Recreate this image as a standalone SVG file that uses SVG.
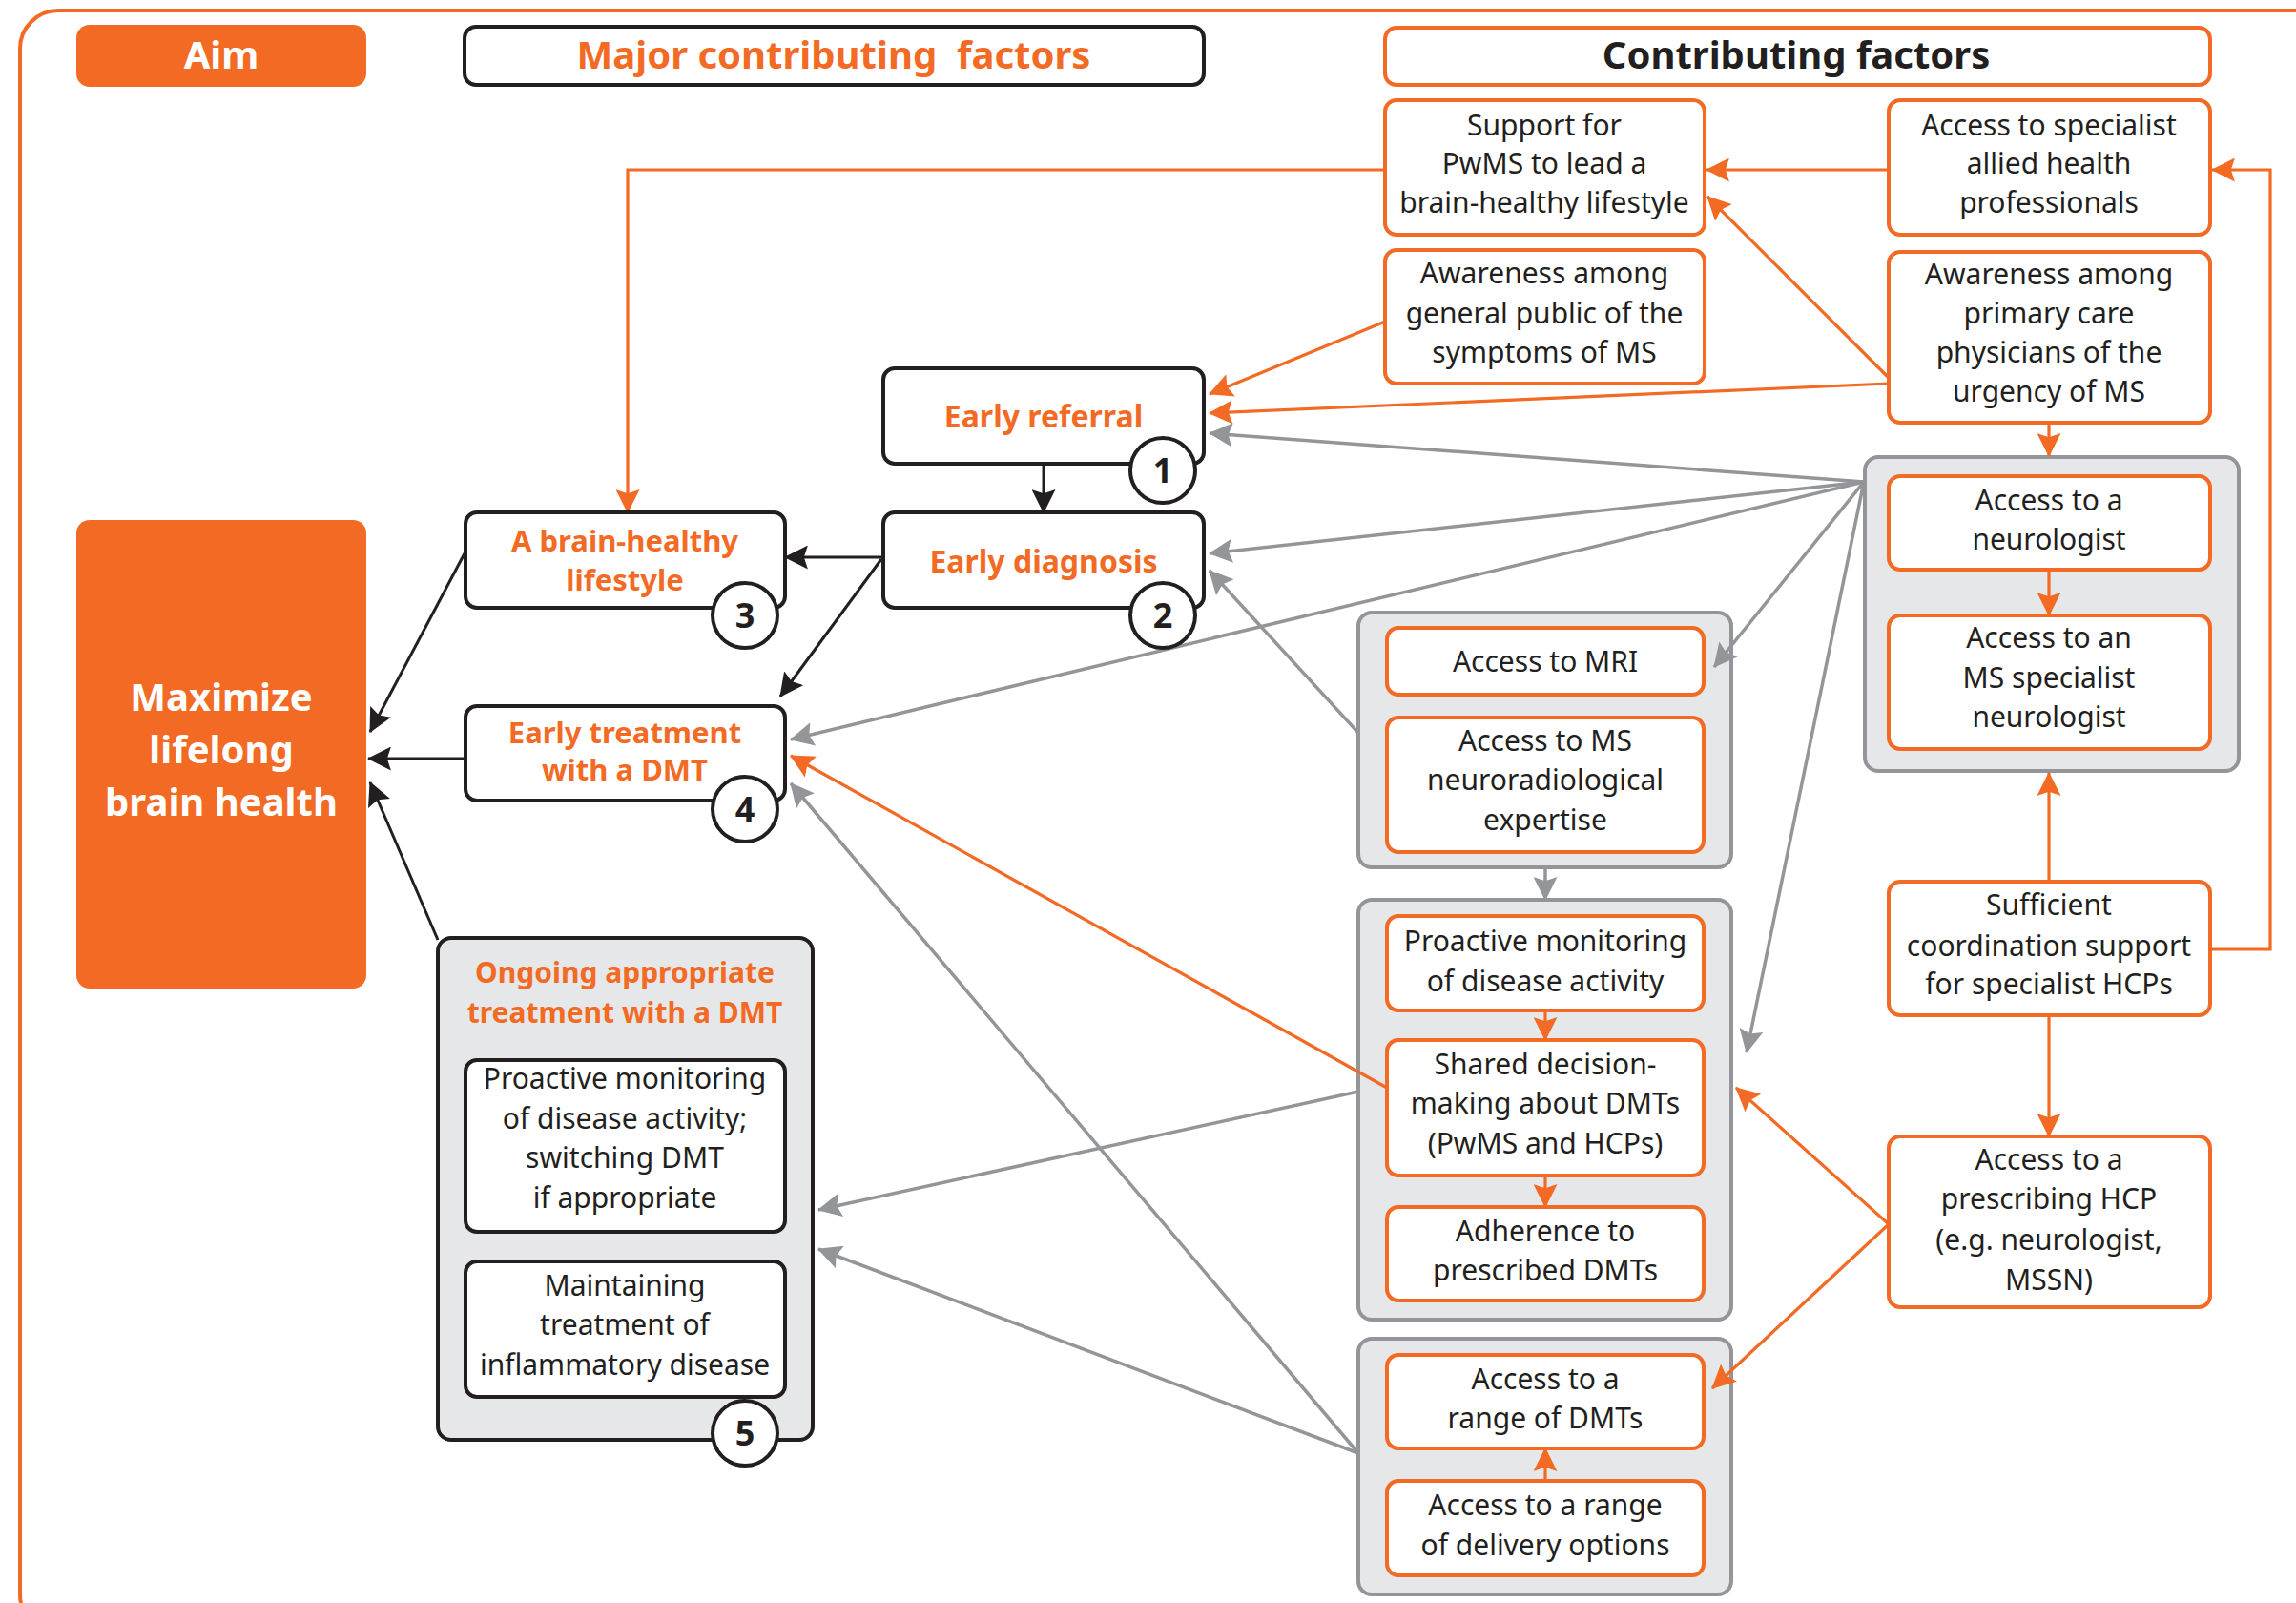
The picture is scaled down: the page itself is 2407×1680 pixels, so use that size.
<svg xmlns="http://www.w3.org/2000/svg" width="2407" height="1680" viewBox="0 0 2407 1680">
<defs>
<style>
.t{font-family:"Noto Sans","Open Sans","Liberation Sans",sans-serif;font-size:30px;fill:#231F20;text-anchor:middle}
.b{font-family:"Noto Sans","Open Sans","Liberation Sans",sans-serif;font-weight:bold;text-anchor:middle}
.ob{fill:#F26A24}
.ow{fill:#FFFFFF}
.ok{fill:#231F20}
.on{fill:#FFFFFF;stroke:#F26A24;stroke-width:4}
.kn{fill:#FFFFFF;stroke:#231F20;stroke-width:4}
.gb{fill:#E6E7E8;stroke:#939598;stroke-width:4}
.num{fill:#FFFFFF;stroke:#231F20;stroke-width:4}
.lo{fill:none;stroke:#F26A24;stroke-width:3.2}
.lg{fill:none;stroke:#939598;stroke-width:3.5}
.lk{fill:none;stroke:#231F20;stroke-width:3}
</style>
<marker id="ao" viewBox="0 0 24 24" markerWidth="25" markerHeight="25" markerUnits="userSpaceOnUse" refX="23" refY="12" orient="auto"><path d="M0,0 L24,12 L0,24 L4,12 Z" fill="#F26A24"/></marker>
<marker id="ag" viewBox="0 0 24 24" markerWidth="25" markerHeight="25" markerUnits="userSpaceOnUse" refX="23" refY="12" orient="auto"><path d="M0,0 L24,12 L0,24 L4,12 Z" fill="#939598"/></marker>
<marker id="ak" viewBox="0 0 24 24" markerWidth="25" markerHeight="25" markerUnits="userSpaceOnUse" refX="23" refY="12" orient="auto"><path d="M0,0 L24,12 L0,24 L4,12 Z" fill="#231F20"/></marker>
</defs>
<rect width="2407" height="1680" fill="#FFFFFF"/>
<rect x="21" y="11" width="2500" height="1700" rx="40" fill="none" stroke="#F26A24" stroke-width="4"/>

<!-- headers -->
<g id="hdr-aim">
<rect x="80" y="26" width="304" height="65" rx="14" fill="#F26A24"/>
<text class="b ow" x="232" y="72" font-size="40">Aim</text>
</g>
<g id="hdr-major">
<rect x="487" y="28" width="775" height="61" rx="12" class="kn"/>
<text class="b ob" x="874" y="72" font-size="40" xml:space="preserve">Major contributing  factors</text>
</g>
<g id="hdr-contrib">
<rect x="1452" y="29" width="865" height="60" rx="12" class="on"/>
<text class="b ok" x="1883" y="72" font-size="40">Contributing factors</text>
</g>

<!-- group backgrounds -->
<g id="grp-neuro"><rect x="1955" y="479" width="392" height="329" rx="14" class="gb"/></g>
<g id="grp-mri"><rect x="1424" y="642" width="391" height="267" rx="14" class="gb"/></g>
<g id="grp-monitor"><rect x="1424" y="943" width="391" height="440" rx="14" class="gb"/></g>
<g id="grp-access"><rect x="1424" y="1403" width="391" height="268" rx="14" class="gb"/></g>

<!-- connectors -->
<g id="connectors">
<path class="lk" d="M1094,486 V537" marker-end="url(#ak)"/>
<path class="lk" d="M926,584 H823" marker-end="url(#ak)"/>
<path class="lk" d="M924,586 L818,730" marker-end="url(#ak)"/>
<path class="lk" d="M487,580 L388,767" marker-end="url(#ak)"/>
<path class="lk" d="M488,795 H386" marker-end="url(#ak)"/>
<path class="lk" d="M459,985 L388,820" marker-end="url(#ak)"/>

<path class="lo" d="M1452,178 H658 V537" marker-end="url(#ao)"/>
<path class="lo" d="M1980,178 H1789" marker-end="url(#ao)"/>
<path class="lo" d="M1980,396 L1790,206" marker-end="url(#ao)"/>
<path class="lo" d="M1452,337 L1268,413" marker-end="url(#ao)"/>
<path class="lo" d="M1980,402 L1268,433" marker-end="url(#ao)"/>
<path class="lo" d="M1454,1140 L829,792" marker-end="url(#ao)"/>
<path class="lo" d="M1980,1283 L1820,1140" marker-end="url(#ao)"/>
<path class="lo" d="M1980,1283 L1795,1455" marker-end="url(#ao)"/>
<path class="lo" d="M2148,443 V478" marker-end="url(#ao)"/>
<path class="lo" d="M2148,597 V645" marker-end="url(#ao)"/>
<path class="lo" d="M2148,924 V810" marker-end="url(#ao)"/>
<path class="lo" d="M2148,1064 V1191" marker-end="url(#ao)"/>
<path class="lo" d="M2317,995 H2380 V178 H2319" marker-end="url(#ao)"/>
<path class="lo" d="M1620,1059 V1090" marker-end="url(#ao)"/>
<path class="lo" d="M1620,1232 V1265" marker-end="url(#ao)"/>
<path class="lo" d="M1620,1552 V1518" marker-end="url(#ao)"/>

<path class="lg" d="M1954,505 L1268,454" marker-end="url(#ag)"/>
<path class="lg" d="M1954,505 L1268,580" marker-end="url(#ag)"/>
<path class="lg" d="M1954,505 L829,775" marker-end="url(#ag)"/>
<path class="lg" d="M1954,505 L1797,699" marker-end="url(#ag)"/>
<path class="lg" d="M1954,505 L1831,1103" marker-end="url(#ag)"/>
<path class="lg" d="M1424,768 L1268,598" marker-end="url(#ag)"/>
<path class="lg" d="M1424,1144 L858,1268" marker-end="url(#ag)"/>
<path class="lg" d="M1424,1523 L858,1309" marker-end="url(#ag)"/>
<path class="lg" d="M1424,1523 L829,821" marker-end="url(#ag)"/>
<path class="lg" d="M1620,909 V943" marker-end="url(#ag)"/>
</g>

<!-- Aim node -->
<g id="n-maximize">
<rect x="80" y="545" width="304" height="491" rx="14" fill="#F26A24"/>
<text class="b ow" font-size="40"><tspan x="232" y="745">Maximize</tspan><tspan x="232" y="800">lifelong</tspan><tspan x="232" y="855">brain health</tspan></text>
</g>

<!-- major factors -->
<g id="n-referral">
<rect x="926" y="386" width="336" height="100" rx="12" class="kn"/>
<text class="b ob" font-size="32" x="1094" y="448">Early referral</text>
<circle cx="1219" cy="493" r="34" class="num"/>
<text class="b ok" font-size="36" x="1219" y="506">1</text>
</g>
<g id="n-diagnosis">
<rect x="926" y="537" width="336" height="100" rx="12" class="kn"/>
<text class="b ob" font-size="32" x="1094" y="600">Early diagnosis</text>
<circle cx="1219" cy="645" r="34" class="num"/>
<text class="b ok" font-size="36" x="1219" y="658">2</text>
</g>
<g id="n-lifestyle">
<rect x="488" y="537" width="335" height="100" rx="12" class="kn"/>
<text class="b ob" font-size="31"><tspan x="655" y="578">A brain-healthy</tspan><tspan x="655" y="619">lifestyle</tspan></text>
<circle cx="781" cy="645" r="34" class="num"/>
<text class="b ok" font-size="36" x="781" y="658">3</text>
</g>
<g id="n-treatment">
<rect x="488" y="740" width="335" height="99" rx="12" class="kn"/>
<text class="b ob" font-size="31"><tspan x="655" y="779">Early treatment</tspan><tspan x="655" y="818">with a DMT</tspan></text>
<circle cx="781" cy="848" r="34" class="num"/>
<text class="b ok" font-size="36" x="781" y="861">4</text>
</g>
<g id="n-ongoing">
<rect x="459" y="983" width="393" height="526" rx="14" fill="#E6E7E8" stroke="#231F20" stroke-width="4"/>
<text class="b ob" font-size="30"><tspan x="655" y="1030">Ongoing appropriate</tspan><tspan x="655" y="1072">treatment with a DMT</tspan></text>
<rect x="488" y="1111" width="335" height="180" rx="12" class="kn"/>
<text class="t"><tspan x="655" y="1141">Proactive monitoring</tspan><tspan x="655" y="1183">of disease activity;</tspan><tspan x="655" y="1224">switching DMT</tspan><tspan x="655" y="1266">if appropriate</tspan></text>
<rect x="488" y="1322" width="335" height="142" rx="12" class="kn"/>
<text class="t"><tspan x="655" y="1358">Maintaining</tspan><tspan x="655" y="1399">treatment of</tspan><tspan x="655" y="1441">inflammatory disease</tspan></text>
<circle cx="781" cy="1502" r="34" class="num"/>
<text class="b ok" font-size="36" x="781" y="1515">5</text>
</g>

<!-- contributing factors -->
<g id="n-support">
<rect x="1452" y="105" width="335" height="141" rx="12" class="on"/>
<text class="t"><tspan x="1619" y="142">Support for</tspan><tspan x="1619" y="182">PwMS to lead a</tspan><tspan x="1619" y="223">brain-healthy lifestyle</tspan></text>
</g>
<g id="n-allied">
<rect x="1980" y="105" width="337" height="141" rx="12" class="on"/>
<text class="t"><tspan x="2148" y="142">Access to specialist</tspan><tspan x="2148" y="182">allied health</tspan><tspan x="2148" y="223">professionals</tspan></text>
</g>
<g id="n-public">
<rect x="1452" y="262" width="335" height="140" rx="12" class="on"/>
<text class="t"><tspan x="1619" y="297">Awareness among</tspan><tspan x="1619" y="339">general public of the</tspan><tspan x="1619" y="380">symptoms of MS</tspan></text>
</g>
<g id="n-primary">
<rect x="1980" y="264" width="337" height="179" rx="12" class="on"/>
<text class="t"><tspan x="2148" y="298">Awareness among</tspan><tspan x="2148" y="339">primary care</tspan><tspan x="2148" y="380">physicians of the</tspan><tspan x="2148" y="421">urgency of MS</tspan></text>
</g>
<g id="n-neurologist">
<rect x="1980" y="499" width="337" height="98" rx="12" class="on"/>
<text class="t"><tspan x="2148" y="535">Access to a</tspan><tspan x="2148" y="576">neurologist</tspan></text>
</g>
<g id="n-msneuro">
<rect x="1980" y="645" width="337" height="140" rx="12" class="on"/>
<text class="t"><tspan x="2148" y="679">Access to an</tspan><tspan x="2148" y="721">MS specialist</tspan><tspan x="2148" y="762">neurologist</tspan></text>
</g>
<g id="n-mri">
<rect x="1454" y="658" width="332" height="70" rx="12" class="on"/>
<text class="t" x="1620" y="704">Access to MRI</text>
</g>
<g id="n-neurorad">
<rect x="1454" y="752" width="332" height="141" rx="12" class="on"/>
<text class="t"><tspan x="1620" y="787">Access to MS</tspan><tspan x="1620" y="828">neuroradiological</tspan><tspan x="1620" y="870">expertise</tspan></text>
</g>
<g id="n-monitoring">
<rect x="1454" y="960" width="332" height="99" rx="12" class="on"/>
<text class="t"><tspan x="1620" y="997">Proactive monitoring</tspan><tspan x="1620" y="1039">of disease activity</tspan></text>
</g>
<g id="n-shared">
<rect x="1454" y="1090" width="332" height="142" rx="12" class="on"/>
<text class="t"><tspan x="1620" y="1126">Shared decision-</tspan><tspan x="1620" y="1167">making about DMTs</tspan><tspan x="1620" y="1209">(PwMS and HCPs)</tspan></text>
</g>
<g id="n-adherence">
<rect x="1454" y="1265" width="332" height="98" rx="12" class="on"/>
<text class="t"><tspan x="1620" y="1301">Adherence to</tspan><tspan x="1620" y="1342">prescribed DMTs</tspan></text>
</g>
<g id="n-range">
<rect x="1454" y="1420" width="332" height="98" rx="12" class="on"/>
<text class="t"><tspan x="1620" y="1456">Access to a</tspan><tspan x="1620" y="1497">range of DMTs</tspan></text>
</g>
<g id="n-delivery">
<rect x="1454" y="1552" width="332" height="99" rx="12" class="on"/>
<text class="t"><tspan x="1620" y="1588">Access to a range</tspan><tspan x="1620" y="1630">of delivery options</tspan></text>
</g>
<g id="n-coordination">
<rect x="1980" y="924" width="337" height="140" rx="12" class="on"/>
<text class="t"><tspan x="2148" y="959">Sufficient</tspan><tspan x="2148" y="1002">coordination support</tspan><tspan x="2148" y="1042">for specialist HCPs</tspan></text>
</g>
<g id="n-prescribing">
<rect x="1980" y="1191" width="337" height="179" rx="12" class="on"/>
<text class="t"><tspan x="2148" y="1226">Access to a</tspan><tspan x="2148" y="1267">prescribing HCP</tspan><tspan x="2148" y="1310">(e.g. neurologist,</tspan><tspan x="2148" y="1352">MSSN)</tspan></text>
</g>
</svg>
